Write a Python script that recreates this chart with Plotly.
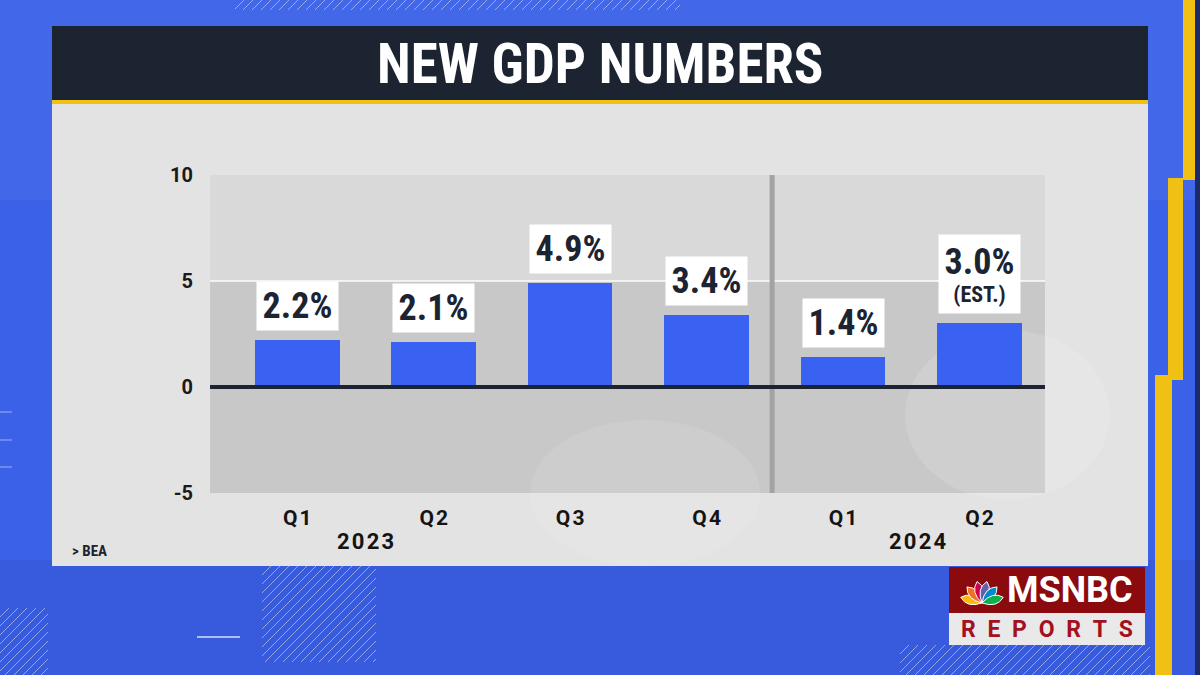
import math
import plotly.graph_objects as go

# ---------------- data ----------------
quarters = ["Q1", "Q2", "Q3", "Q4", "Q1", "Q2"]
years = ["2023", "2024"]
year_centers = [0.5, 4.55]          # category position under which each year label sits
gdp_growth = [2.2, 2.1, 4.9, 3.4, 1.4, 3.0]
value_labels = ["2.2%", "2.1%", "4.9%", "3.4%", "1.4%", "3.0%"]
label_notes = ["", "", "", "", "", "(EST.)"]
y_ticks = [-5, 0, 5, 10]
y_tick_text = ["-5", "0", "5", "10"]
title_text = "NEW GDP NUMBERS"
source_text = "> BEA"

# ---------------- layout helpers ----------------
W, H = 1200, 675
L, R, T, B = 210, 1045, 175, 493          # plot area in pixels


def px(x):
    return (x - L) / (R - L)


def py(y):
    return (B - y) / (B - T)


NARROW = "Liberation Sans Narrow, Roboto Condensed, Arial Narrow, Roboto, sans-serif"
ROBOTO = "Roboto, Liberation Sans, sans-serif"
DARK = "#1c2331"
BLUE_BG = "#3c61e9"
BAR = "#3a62f2"
YELLOW = "#f1c015"


def rect(x0, y0, x1, y1, color, layer="below", line=None):
    return dict(type="rect", xref="paper", yref="paper", x0=px(x0), x1=px(x1),
                y0=py(y1), y1=py(y0), fillcolor=color, layer=layer,
                line=dict(width=0) if line is None else line)


def hatch(x0, y0, x1, y1, spacing=9, color="rgba(255,255,255,0.45)", width=1):
    segs = []
    k = x0 + y0
    while k <= x1 + y1:
        ymin = max(y0, k - x1)
        ymax = min(y1, k - x0)
        if ymax > ymin:
            segs.append(f"M {px(k - ymax):.5f} {py(ymax):.5f} L {px(k - ymin):.5f} {py(ymin):.5f}")
        k += spacing
    return dict(type="path", xref="paper", yref="paper", path=" ".join(segs),
                line=dict(color=color, width=width), layer="below")


shapes = []
# background bands
shapes.append(rect(0, 0, 1200, 200, "rgba(255,255,255,0.04)"))
shapes.append(rect(0, 560, 1200, 675, "rgba(0,0,40,0.06)"))
# right-hand yellow steps
shapes.append(rect(1183, 0, 1195, 180, YELLOW))
shapes.append(rect(1168, 178, 1183, 380, YELLOW))
shapes.append(rect(1155, 375, 1172, 675, YELLOW))
shapes.append(rect(1195, 0, 1200, 675, "#1d2a6a"))
# hatch decorations
shapes.append(hatch(262, 566, 376, 662))
shapes.append(hatch(0, 608, 48, 675))
shapes.append(hatch(235, 0, 680, 10))
shapes.append(hatch(900, 645, 1150, 675))
# short dashes on the left
for yy in [412, 440, 467]:
    shapes.append(dict(type="line", xref="paper", yref="paper", x0=px(0), x1=px(12),
                       y0=py(yy), y1=py(yy), line=dict(color="rgba(255,255,255,0.5)", width=1), layer="below"))
shapes.append(dict(type="line", xref="paper", yref="paper", x0=px(197), x1=px(240),
                   y0=py(637), y1=py(637), line=dict(color="rgba(255,255,255,0.6)", width=2), layer="below"))
# title bar, accent and panel
shapes.append(rect(52, 26, 1148, 100, DARK))
shapes.append(rect(52, 100, 1148, 104, YELLOW))
shapes.append(rect(52, 104, 1148, 566, "#e3e3e3"))
# plot background bands
shapes.append(dict(type="rect", xref="paper", yref="y", x0=0, x1=1, y0=5, y1=10,
                   fillcolor="#d9d9d9", line=dict(width=0), layer="below"))
shapes.append(dict(type="rect", xref="paper", yref="y", x0=0, x1=1, y0=-5, y1=5,
                   fillcolor="#c8c8c8", line=dict(width=0), layer="below"))
shapes.append(dict(type="line", xref="paper", yref="y", x0=0, x1=1, y0=5, y1=5,
                   line=dict(color="rgba(255,255,255,0.7)", width=2), layer="below"))
# faint peacock-like curves in the panel
shapes.append(dict(type="circle", xref="paper", yref="paper", x0=px(905), x1=px(1110),
                   y0=py(500), y1=py(330), fillcolor="rgba(255,255,255,0.13)",
                   line=dict(width=0), layer="below"))
shapes.append(dict(type="circle", xref="paper", yref="paper", x0=px(530), x1=px(760),
                   y0=py(566), y1=py(420), fillcolor="rgba(255,255,255,0.10)",
                   line=dict(width=0), layer="below"))
# divider between years
shapes.append(dict(type="line", xref="x", yref="y", x0=3.48, x1=3.48, y0=-5, y1=10,
                   line=dict(color="#a3a3a3", width=5), layer="below"))
# zero line
shapes.append(dict(type="line", xref="paper", yref="y", x0=0, x1=1, y0=0, y1=0,
                   line=dict(color=DARK, width=4), layer="above"))

# MSNBC REPORTS logo
shapes.append(rect(949, 567, 1145, 613, "#8b0a0e", layer="above"))
shapes.append(rect(949, 613, 1145, 645, "#e9e9e9", layer="above"))
peacock_colors = ["#fcb711", "#f37021", "#cc004c", "#6460aa", "#0089d0", "#0db14b"]
peacock_angles = [165, 133, 103, 77, 47, 15]
cx, cy = 982, 603
for col, ang in zip(peacock_colors, peacock_angles):
    a = math.radians(ang)
    ln, wd = 22, 9
    tx, ty = cx + ln * math.cos(a), cy - ln * math.sin(a)
    nx, ny = -math.sin(a), -math.cos(a)
    mx, my = cx + 0.6 * ln * math.cos(a), cy - 0.6 * ln * math.sin(a)
    c1 = (mx + nx * wd, my + ny * wd)
    c2 = (mx - nx * wd, my - ny * wd)
    path = (f"M {px(cx):.5f} {py(cy):.5f} "
            f"Q {px(c1[0]):.5f} {py(c1[1]):.5f} {px(tx):.5f} {py(ty):.5f} "
            f"Q {px(c2[0]):.5f} {py(c2[1]):.5f} {px(cx):.5f} {py(cy):.5f} Z")
    shapes.append(dict(type="path", xref="paper", yref="paper", path=path,
                       fillcolor=col, line=dict(color="white", width=1), layer="above"))

# ---------------- figure ----------------
x_idx = list(range(len(quarters)))
fig = go.Figure()
fig.add_trace(go.Bar(
    x=x_idx, y=gdp_growth, width=0.62, marker=dict(color=BAR, line=dict(width=0)),
    hoverinfo="skip", showlegend=False,
))

annotations = []
for i, (v, lab, note) in enumerate(zip(gdp_growth, value_labels, label_notes)):
    if note:
        text = f"<span style='font-size:36px'>{lab}</span><br>{note}"
        h = 78
        fsize = 22
    else:
        text = lab
        h = 48
        fsize = 36
    annotations.append(dict(
        x=i, y=v, xref="x", yref="y", xanchor="center", yanchor="bottom", yshift=9,
        showarrow=False, text=text, width=81, height=h, bgcolor="white", borderpad=0,
        valign="middle",
        font=dict(family=NARROW, size=fsize, color=DARK, weight="bold"),
    ))

for yr, xc in zip(years, year_centers):
    annotations.append(dict(
        x=xc, y=py(541), xref="x", yref="paper", xanchor="center", yanchor="middle",
        showarrow=False, text="\u200a".join(yr),
        font=dict(family=ROBOTO, size=22, color="#141414", weight="bold"),
    ))

annotations.append(dict(
    x=px(600), y=py(64), xref="paper", yref="paper", xanchor="center", yanchor="middle",
    showarrow=False, text=title_text,
    font=dict(family=NARROW, size=55, color="white", weight="bold"),
))
annotations.append(dict(
    x=px(70), y=py(551), xref="paper", yref="paper", xanchor="left", yanchor="middle",
    showarrow=False, text=source_text,
    font=dict(family=NARROW, size=15, color=DARK, weight="bold"),
))
annotations.append(dict(
    x=px(1070), y=py(590), xref="paper", yref="paper", xanchor="center", yanchor="middle",
    showarrow=False, text="MSNBC",
    font=dict(family=ROBOTO, size=36, color="white", weight="bold"),
))
annotations.append(dict(
    x=px(1047), y=py(629), xref="paper", yref="paper", xanchor="center", yanchor="middle",
    showarrow=False, text="\u2002".join("REPORTS"),
    font=dict(family=ROBOTO, size=23, color="#a5101f", weight="bold"),
))

fig.update_layout(
    width=W, height=H, autosize=False,
    margin=dict(l=L, r=W - R, t=T, b=H - B, pad=0),
    paper_bgcolor=BLUE_BG, plot_bgcolor="rgba(0,0,0,0)",
    shapes=shapes, annotations=annotations, bargap=0,
    xaxis=dict(
        range=[-0.64, 5.48], tickmode="array", tickvals=x_idx,
        ticktext=["\u200a".join(q) for q in quarters],
        showgrid=False, zeroline=False, showline=False,
        ticks="outside", ticklen=6, tickcolor="rgba(0,0,0,0)",
        tickfont=dict(family=ROBOTO, size=21, color="#141414", weight="bold"),
        fixedrange=True,
    ),
    yaxis=dict(
        range=[-5, 10], tickmode="array", tickvals=y_ticks, ticktext=y_tick_text,
        showgrid=False, zeroline=False, showline=False,
        ticks="outside", ticklen=12, tickcolor="rgba(0,0,0,0)",
        tickfont=dict(family=ROBOTO, size=20, color="#1a1a1a", weight="bold"),
        fixedrange=True,
    ),
)

fig.write_html("out.html")
